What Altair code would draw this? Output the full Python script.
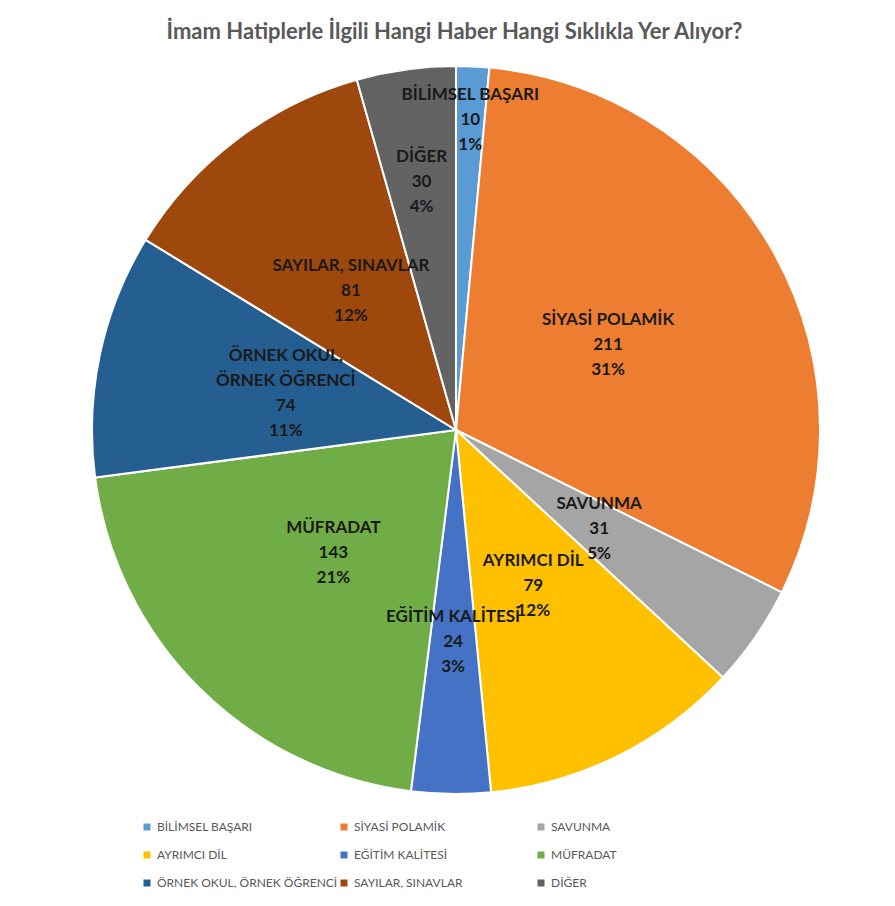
import altair as alt
import pandas as pd

categories = ["BİLİMSEL BAŞARI", "SİYASİ POLAMİK", "SAVUNMA", "AYRIMCI DİL",
              "EĞİTİM KALİTESİ", "MÜFRADAT", "ÖRNEK OKUL, ÖRNEK ÖĞRENCİ",
              "SAYILAR, SINAVLAR", "DİĞER"]
label_names = ["BİLİMSEL BAŞARI", "SİYASİ POLAMİK", "SAVUNMA", "AYRIMCI DİL",
               "EĞİTİM KALİTESİ", "MÜFRADAT", "ÖRNEK OKUL,\nÖRNEK ÖĞRENCİ",
               "SAYILAR, SINAVLAR", "DİĞER"]
counts = [10, 211, 31, 79, 24, 143, 74, 81, 30]
percents = ["1%", "31%", "5%", "12%", "3%", "21%", "11%", "12%", "4%"]
colors = ["#5B9BD5", "#ED7D31", "#A5A5A5", "#FFC000", "#4472C4",
          "#70AD47", "#255E91", "#9E480E", "#636363"]

total = sum(counts)
df = pd.DataFrame({
    "idx": list(range(len(categories))),
    "category": categories,
    "count": counts,
    "label": [f"{n}\n{c}\n{p}" for n, c, p in zip(label_names, counts, percents)],
    "frac": [c / total for c in counts],
})

CX, CY, R = 448, 372, 364
LH = 25
theta_scale = alt.Scale(domain=[0, total])

pie = alt.Chart(df).mark_arc(outerRadius=R, stroke="white", strokeWidth=2).encode(
    theta=alt.Theta("count:Q", stack=True, scale=theta_scale),
    order=alt.Order("idx:Q"),
    x=alt.value(CX),
    y=alt.value(CY),
    color=alt.Color(
        "category:N",
        scale=alt.Scale(domain=categories, range=colors),
        sort=categories,
        legend=alt.Legend(
            title=None,
            orient="none",
            direction="horizontal",
            legendX=133,
            legendY=763,
            columns=3,
            gridAlign="all",
            columnPadding=0,
            rowPadding=16,
            symbolType="square",
            symbolSize=49,
            symbolStrokeWidth=0,
            labelOffset=4,
            labelFont="Lato",
            labelFontSize=12,
            labelColor="#595959",
            labelLimit=300,
        ),
    ),
)

labels = alt.Chart(df).transform_window(
    cum="sum(count)", sort=[alt.SortField("idx")], frame=[None, 0]
).transform_calculate(
    mid="datum.cum - datum.count / 2",
    lr="datum.frac < 0.02 ? 310 : (datum.frac < 0.04 ? 212 : (datum.frac < 0.045 ? 250 : 174))",
    shift=f"-(length(split(datum.label, '\\n')) - 1) * {LH} / 2",
).mark_text(
    font="Lato", fontSize=17, fontWeight="bold", color="#1a1a1a",
    lineBreak="\n", lineHeight=LH, align="center", baseline="middle",
    dy=alt.expr("datum.shift"),
).encode(
    theta=alt.Theta("mid:Q", stack=None, scale=theta_scale),
    x=alt.value(CX),
    y=alt.value(CY),
    radius=alt.Radius("lr:Q", scale=None),
    text="label:N",
)

chart = alt.layer(pie, labels).properties(
    width=879,
    height=840,
    autosize=alt.AutoSizeParams(type="none"),
    padding={"left": 0, "top": 50, "right": 0, "bottom": 0},
    title=alt.TitleParams(
        "İmam Hatiplerle İlgili Hangi Haber Hangi Sıklıkla Yer Alıyor?",
        font="Lato", fontSize=22, fontWeight="bold", color="#595959",
        anchor="middle", offset=14, dx=7,
    ),
).configure_view(stroke=None)

chart.save("out.html", embed_options={"renderer": "svg", "actions": False})
